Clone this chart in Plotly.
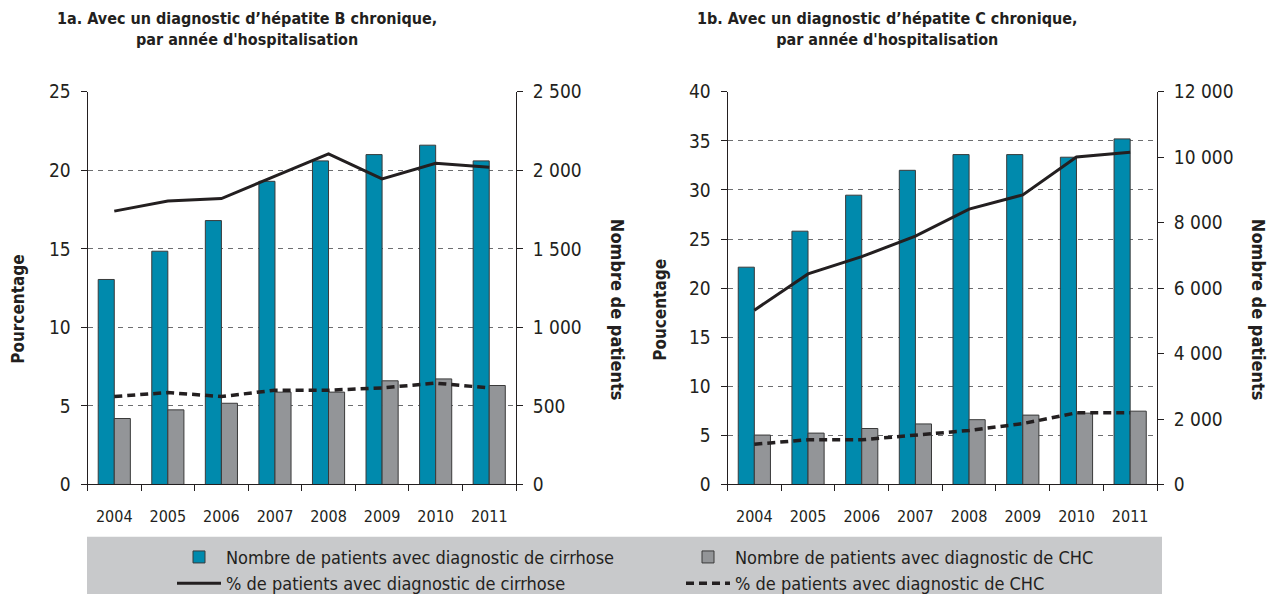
import plotly.graph_objects as go

years = ["2004", "2005", "2006", "2007", "2008", "2009", "2010", "2011"]

# 1a - hépatite B chronique
b_cirrhose_n = [1305, 1485, 1680, 1930, 2060, 2100, 2160, 2060]
b_chc_n = [420, 475, 517, 588, 588, 660, 672, 630]
b_cirrhose_pct = [17.4, 18.05, 18.2, 19.6, 21.05, 19.45, 20.45, 20.2]
b_chc_pct = [5.6, 5.85, 5.6, 6.0, 6.0, 6.15, 6.45, 6.15]

# 1b - hépatite C chronique
c_cirrhose_n = [6640, 7740, 8840, 9600, 10080, 10080, 10000, 10560]
c_chc_n = [1510, 1570, 1710, 1850, 1980, 2120, 2180, 2240]
c_cirrhose_pct = [17.75, 21.45, 23.2, 25.3, 28.05, 29.5, 33.35, 33.85]
c_chc_pct = [4.1, 4.55, 4.55, 5.05, 5.5, 6.2, 7.3, 7.3]

titles = [
    "1a. Avec un diagnostic d’hépatite B chronique,<br>par année d'hospitalisation",
    "1b. Avec un diagnostic d’hépatite C chronique,<br>par année d'hospitalisation",
]
legend_names = [
    "Nombre de patients avec diagnostic de cirrhose",
    "Nombre de patients avec diagnostic de CHC",
    "% de patients avec diagnostic de cirrhose",
    "% de patients avec diagnostic de CHC",
]

W, H = 1273, 602
FONT = "Liberation Sans Narrow, Arial Narrow, DejaVu Sans Condensed, sans-serif"
TXT = "#231f20"
BLUE = "#008aad"
GREY = "#939598"
OUTLINE = "#3a3a3a"


def px(x):
    return x / W


def py(y):
    return (H - y) / H


ydom = [py(491), py(93)]
xdom1 = [px(87.5), px(516)]
xdom2 = [px(727.5), px(1157)]

fig = go.Figure()


def add_panel(xa, ya_n, ya_p, cir_n, chc_n, cir_p, chc_p, show):
    fig.add_trace(go.Bar(
        x=years, y=cir_n, xaxis=xa, yaxis=ya_n, width=0.3, offset=-0.3,
        marker=dict(color=BLUE, line=dict(color=OUTLINE, width=1)),
        name=legend_names[0], showlegend=show, legendrank=1))
    fig.add_trace(go.Bar(
        x=years, y=chc_n, xaxis=xa, yaxis=ya_n, width=0.3, offset=0,
        marker=dict(color=GREY, line=dict(color=OUTLINE, width=1)),
        name=legend_names[1], showlegend=show, legendrank=2))
    fig.add_trace(go.Scatter(
        x=years, y=cir_p, xaxis=xa, yaxis=ya_p, mode="lines",
        line=dict(color=TXT, width=3),
        name=legend_names[2], showlegend=show, legendrank=3))
    fig.add_trace(go.Scatter(
        x=years, y=chc_p, xaxis=xa, yaxis=ya_p, mode="lines",
        line=dict(color=TXT, width=3.5, dash="8px,5px"),
        name=legend_names[3], showlegend=show, legendrank=4))


add_panel("x", "y", "y2", b_cirrhose_n, b_chc_n, b_cirrhose_pct, b_chc_pct, True)
add_panel("x2", "y3", "y4", c_cirrhose_n, c_chc_n, c_cirrhose_pct, c_chc_pct, False)

tickfont = dict(family=FONT, size=19, color=TXT)
xaxis_common = dict(
    type="category", categoryorder="array", categoryarray=years,
    range=[-0.5, 7.5], showline=True, linecolor=TXT, linewidth=1,
    ticks="outside", tickson="boundaries", ticklen=6, tickcolor=TXT,
    showgrid=False, tickfont=dict(family=FONT, size=16, color=TXT),
    ticklabelstandoff=17, fixedrange=True,
)
count_common = dict(
    side="right", showline=True, linecolor=TXT, linewidth=1,
    ticks="outside", ticklen=6, tickcolor=TXT, showgrid=False,
    zeroline=False, tickfont=tickfont, tickformat=",d", domain=ydom,
    ticklabelstandoff=6,
)
pct_common = dict(
    side="left", showline=True, linecolor=TXT, linewidth=1,
    ticks="outside", ticklen=6, tickcolor=TXT, showgrid=True,
    gridcolor="#6d6e70", gridwidth=1, griddash="5px,5px",
    zeroline=False, tickfont=tickfont, ticklabelstandoff=6,
)

fig.update_layout(
    width=W, height=H,
    margin=dict(l=0, r=0, t=0, b=0),
    template="none",
    paper_bgcolor="white", plot_bgcolor="rgba(0,0,0,0)",
    separators=", ",
    font=dict(family=FONT, color=TXT),
    barmode="overlay",
    xaxis=dict(domain=xdom1, anchor="y", **xaxis_common),
    xaxis2=dict(domain=xdom2, anchor="y3", **xaxis_common),
    yaxis=dict(anchor="x", range=[0, 2500], dtick=500, **count_common),
    yaxis2=dict(anchor="x", overlaying="y", range=[0, 25], dtick=5, **pct_common),
    yaxis3=dict(anchor="x2", range=[0, 12000], dtick=2000, **count_common),
    yaxis4=dict(anchor="x2", overlaying="y3", range=[0, 40], dtick=5, **pct_common),
    showlegend=True,
    legend=dict(
        orientation="h", x=px(172), y=py(546), xanchor="left", yanchor="top",
        entrywidth=450, entrywidthmode="pixels", bgcolor="rgba(0,0,0,0)",
        font=dict(family=FONT, size=18, color=TXT), traceorder="normal",
        itemwidth=44, tracegroupgap=0,
    ),
    shapes=[dict(
        type="rect", xref="paper", yref="paper",
        x0=px(87), x1=px(1162), y0=0, y1=py(544),
        fillcolor="#c8c9cb", line=dict(width=0), layer="below",
    )],
)

ann = []
for t, cx in zip(titles, [247, 887]):
    ann.append(dict(
        text="<b>" + t + "</b>", x=px(cx), y=py(29), xref="paper", yref="paper",
        xanchor="center", yanchor="middle", showarrow=False, align="center",
        font=dict(family=FONT, size=16, color=TXT),
    ))
for txt, x, ang, sz in [("Pourcentage", 18, -90, 17), ("Nombre de patients", 617, 90, 18),
                        ("Poucentage", 660, -90, 17), ("Nombre de patients", 1258, 90, 18)]:
    ann.append(dict(
        text="<b>" + txt + "</b>", x=px(x), y=py(314), xref="paper", yref="paper",
        xanchor="center", yanchor="middle", showarrow=False, textangle=ang,
        font=dict(family=FONT, size=sz, color=TXT),
    ))
fig.update_layout(annotations=ann)

fig.write_html(
    "out.html",
    config={"displayModeBar": False, "staticPlot": True},
    post_script=(
        "document.documentElement.style.margin='0';"
        "document.documentElement.style.overflow='hidden';"
        "document.body.style.margin='0';"
        "document.body.style.padding='0';"
        "document.body.style.overflow='hidden';"
    ),
)
